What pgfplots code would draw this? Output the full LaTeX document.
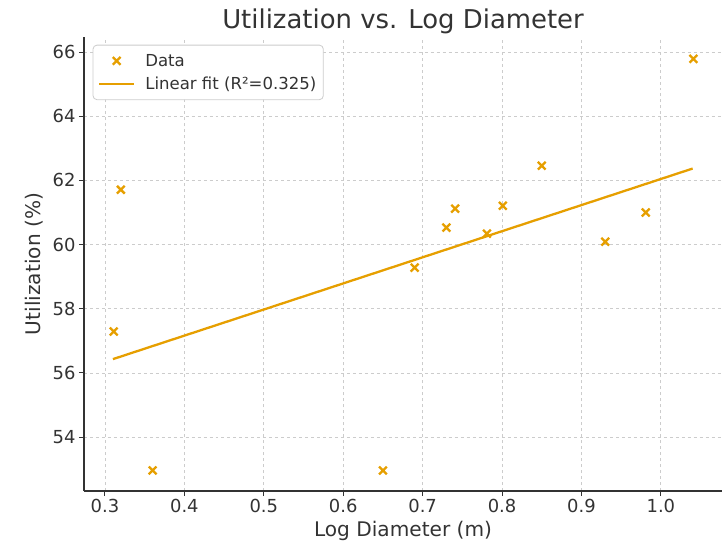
\documentclass[border=0pt]{standalone}
\usepackage{pgfplots}
\pgfplotsset{compat=1.18}
\usepackage{fontspec}
\setmainfont{DejaVu Sans}
\definecolor{fitorange}{HTML}{E69F00}
\definecolor{txt}{HTML}{333333}
\definecolor{gridc}{HTML}{CCCCCC}

% legend samples: a wide line and a centred mark
\pgfplotsset{
  wideline legend/.style={legend image code/.code={\draw[##1] (0bp,0bp) -- (35bp,0bp);}},
  mark legend/.style={legend image code/.code={\draw[##1] plot coordinates {(17.5bp,0bp)};}},
}

\pgfplotstableread{
x      y
0.311  57.29
0.320  61.71
0.360  52.96
0.650  52.96
0.690  59.28
0.730  60.53
0.741  61.12
0.781  60.34
0.801  61.21
0.850  62.46
0.930  60.09
0.981  61.00
1.041  65.79
}\datatable

\pgfplotstableread{
x     y
0.310 56.43
1.040 62.37
}\fittable

\begin{document}
\begin{tikzpicture}
\begin{axis}[
  at={(0,0)}, anchor=south west,
  scale only axis,
  width=638bp, height=454bp,
  xmin=0.2736, xmax=1.077,
  ymin=52.32, ymax=66.47,
  xtick={0.3,0.4,...,1.0},
  ytick={54,56,...,66},
  xticklabel style={/pgf/number format/.cd,fixed,fixed zerofill,precision=1},
  /pgf/number format/assume math mode=true,
  axis lines*=left,
  axis line style={line width=1.2bp, color=txt},
  tick style={line width=1bp, color=txt},
  tick align=outside,
  major tick length=5bp,
  ticklabel style={font=\fontsize{18}{21}\selectfont, text=txt},
  grid=major,
  major grid style={dashed, gridc, line width=0.8bp},
  title={Utilization vs. Log Diameter},
  title style={font=\fontsize{26}{30}\selectfont, text=txt, yshift=-6bp},
  xlabel={Log Diameter (m)},
  ylabel={Utilization (\%)},
  label style={font=\fontsize{20.2}{24}\selectfont, text=txt},
  xlabel style={yshift=-1bp},
  ylabel style={yshift=3bp},
  legend style={at={(0.0135,0.983)}, anchor=north west,
    font=\fontsize{16.6}{19}\selectfont, text=txt,
    draw=gridc, rounded corners=4bp, line width=0.8bp,
    row sep=5bp, inner xsep=5bp, inner ysep=7bp,
    /tikz/every odd column/.append style={column sep=8bp}},
  legend cell align=left,
]
\addplot[only marks, mark=x, mark size=5.5bp, line width=2.3bp, color=fitorange,
  mark legend]
  table[x=x,y=y]{\datatable};
\addlegendentry{Data}
\addplot[no marks, line width=2.3bp, color=fitorange, wideline legend]
  table[x=x,y=y]{\fittable};
\addlegendentry{Linear fit (R²=0.325)}
\end{axis}
\pgfresetboundingbox
\useasboundingbox (-84bp,-54bp) rectangle (638bp,491bp);
\end{tikzpicture}
\end{document}
